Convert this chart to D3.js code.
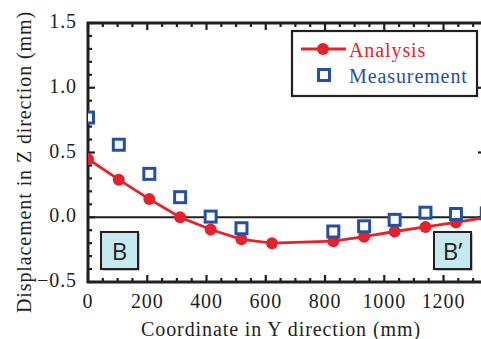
<!DOCTYPE html>
<html>
<head>
<meta charset="utf-8">
<script src="https://cdn.jsdelivr.net/npm/d3@7"></script>
<style>
  body { margin: 0; background: #fff; }
  svg { display: block; }
</style>
</head>
<body>
<svg id="chart" width="481" height="339"></svg>
<script>
// Values
const analysisX = [0, 104, 207, 311, 414, 518, 621, 828, 932, 1035, 1139, 1242, 1346];
const analysisY = [0.45, 0.29, 0.14, 0.0, -0.095, -0.17, -0.20, -0.185, -0.15, -0.11, -0.075, -0.04, 0.0];
const measureX = [0, 104, 207, 311, 414, 518, 828, 932, 1035, 1139, 1242, 1346];
const measureY = [0.77, 0.56, 0.335, 0.155, 0.005, -0.085, -0.11, -0.07, -0.02, 0.035, 0.025, 0.03];
const xTicks = [0, 200, 400, 600, 800, 1000, 1200];
const yTicks = [-0.5, 0.0, 0.5, 1.0, 1.5];

const red = '#e3222b';
const blue = '#2450a4';
const ink = '#231f20';
const serif = '"Liberation Serif", "DejaVu Serif", serif';
const fs = 20, ls = 0.9;

const svg = d3.select('#chart');
const pL = 88, pR = 485, pT = 23, pB = 282;

const x = d3.scaleLinear().domain([0, 1340]).range([pL, pR]);
const y = d3.scaleLinear().domain([-0.5, 1.5]).range([pB, pT]);

svg.append('clipPath').attr('id', 'clip')
  .append('rect').attr('x', pL).attr('y', pT).attr('width', 481 - pL).attr('height', pB - pT);

// Minor / major ticks pointing inward on all four sides
const xMinor = d3.range(0, 1341, 50);
const yMinor = d3.range(-5, 16).map(d => d / 10);
const tk = svg.append('g').attr('stroke', ink).attr('stroke-width', 2.2);
xMinor.forEach(v => {
  const len = v % 200 === 0 ? 7 : 4;
  tk.append('line').attr('x1', x(v)).attr('x2', x(v)).attr('y1', pB).attr('y2', pB - len);
  tk.append('line').attr('x1', x(v)).attr('x2', x(v)).attr('y1', pT).attr('y2', pT + len);
});
yMinor.forEach(v => {
  const len = Math.round(v * 10) % 5 === 0 ? 7 : 4;
  tk.append('line').attr('x1', pL).attr('x2', pL + len).attr('y1', y(v)).attr('y2', y(v));
  tk.append('line').attr('x1', pR).attr('x2', pR - len).attr('y1', y(v)).attr('y2', y(v));
});

// Zero line
svg.append('line')
  .attr('x1', pL).attr('x2', pR).attr('y1', y(0)).attr('y2', y(0))
  .attr('stroke', ink).attr('stroke-width', 2);

// Frame
svg.append('rect')
  .attr('x', pL).attr('y', pT).attr('width', pR - pL).attr('height', pB - pT)
  .attr('fill', 'none').attr('stroke', ink).attr('stroke-width', 3);

// Tick labels
svg.append('g').selectAll('text').data(xTicks).join('text')
  .attr('x', d => x(d)).attr('y', 308)
  .attr('text-anchor', 'middle')
  .attr('font-family', serif).attr('font-size', fs).attr('letter-spacing', ls).attr('fill', ink)
  .text(d => d);
svg.append('g').selectAll('text').data(yTicks).join('text')
  .attr('x', 77).attr('y', d => y(d) + 5)
  .attr('text-anchor', 'end')
  .attr('font-family', serif).attr('font-size', fs).attr('letter-spacing', ls).attr('fill', ink)
  .text(d => d3.format('.1f')(d));

// Axis titles
svg.append('text')
  .attr('x', 281).attr('y', 336)
  .attr('text-anchor', 'middle')
  .attr('font-family', serif).attr('font-size', fs).attr('letter-spacing', ls).attr('fill', ink)
  .text('Coordinate in Y direction (mm)');
svg.append('text')
  .attr('transform', 'translate(31,162) rotate(-90)')
  .attr('text-anchor', 'middle')
  .attr('font-family', serif).attr('font-size', fs).attr('letter-spacing', ls).attr('fill', ink)
  .text('Displacement in Z direction (mm)');

// B / B' labels
[[101, 'B'], [434, 'B\u2019']].forEach(([bx, t]) => {
  svg.append('rect').attr('x', bx + 1.5).attr('y', 233.5).attr('width', 37).attr('height', 37)
    .attr('fill', '#888');
  svg.append('rect').attr('x', bx).attr('y', 232).attr('width', 37).attr('height', 37)
    .attr('fill', '#c6e9f0').attr('stroke', ink).attr('stroke-width', 2);
  svg.append('text').attr('x', bx + 18.5).attr('y', 260)
    .attr('text-anchor', 'middle')
    .attr('font-family', '"Open Sans", "Noto Sans", sans-serif').attr('font-size', 24).attr('fill', ink)
    .text(t);
});

// Series
const data = svg.append('g').attr('clip-path', 'url(#clip)');
const pts = analysisX.map((v, i) => ({ x: v, y: analysisY[i] }));
data.append('path').datum(pts)
  .attr('fill', 'none').attr('stroke', red).attr('stroke-width', 2.8)
  .attr('d', d3.line().x(d => x(d.x)).y(d => y(d.y)));
data.selectAll('circle').data(pts).join('circle')
  .attr('cx', d => x(d.x)).attr('cy', d => y(d.y)).attr('r', 6)
  .attr('fill', red);
const sq = 11;
data.selectAll('rect.m').data(measureX.map((v, i) => ({ x: v, y: measureY[i] }))).join('rect')
  .attr('class', 'm')
  .attr('x', d => x(d.x) - sq / 2).attr('y', d => y(d.y) - sq / 2)
  .attr('width', sq).attr('height', sq)
  .attr('fill', '#fff').attr('stroke', blue).attr('stroke-width', 3);

// Legend
const lg = svg.append('g');
lg.append('rect').attr('x', 292).attr('y', 31).attr('width', 185).attr('height', 65)
  .attr('fill', '#fff').attr('stroke', ink).attr('stroke-width', 2.2);
lg.append('line').attr('x1', 301).attr('x2', 346).attr('y1', 49).attr('y2', 49)
  .attr('stroke', red).attr('stroke-width', 2.8);
lg.append('circle').attr('cx', 323).attr('cy', 49).attr('r', 6).attr('fill', red);
lg.append('text').attr('x', 349).attr('y', 57)
  .attr('font-family', serif).attr('font-size', fs).attr('letter-spacing', ls).attr('fill', red).text('Analysis');
lg.append('rect').attr('x', 324 - sq / 2).attr('y', 75 - sq / 2).attr('width', sq).attr('height', sq)
  .attr('fill', '#fff').attr('stroke', blue).attr('stroke-width', 3);
lg.append('text').attr('x', 349).attr('y', 83)
  .attr('font-family', serif).attr('font-size', fs).attr('letter-spacing', ls).attr('fill', blue).text('Measurement');
</script>
</body>
</html>
